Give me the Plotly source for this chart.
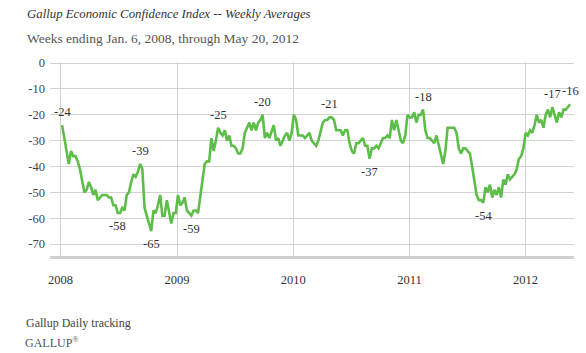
import pandas as pd
import plotly.graph_objects as go

# Weekly Economic Confidence Index values, weeks ending Jan 6, 2008 ... May 20, 2012
values = [
    -24, -29, -34, -39, -34, -36, -36, -38, -41, -45,
    -50, -49, -46, -48, -51, -49, -53, -52, -51, -51,
    -51, -52, -52, -55, -55, -58, -58, -56, -57, -51,
    -50, -46, -43, -44, -42, -39, -41, -56, -59, -61,
    -65, -57, -58, -55, -51, -59, -59, -53, -58, -62,
    -58, -58, -51, -55, -54, -52, -57, -58, -59, -57,
    -57, -58, -51, -44, -39, -38, -38, -29, -34, -30,
    -25, -27, -28, -26, -30, -28, -32, -32, -33, -35,
    -35, -33, -27, -25, -23, -26, -23, -26, -23, -22,
    -20, -29, -27, -29, -26, -24, -30, -29, -32, -30,
    -28, -27, -30, -27, -20, -22, -28, -28, -28, -29,
    -28, -27, -30, -31, -32, -30, -26, -23, -22, -22,
    -21, -21, -22, -26, -26, -26, -28, -26, -26, -31,
    -34, -35, -31, -31, -30, -29, -32, -32, -37, -33,
    -33, -32, -33, -31, -29, -29, -28, -29, -22, -26,
    -22, -26, -30, -31, -28, -20, -21, -21, -19, -23,
    -20, -20, -18, -26, -29, -29, -30, -31, -28, -32,
    -36, -39, -34, -25, -25, -25, -25, -27, -33, -35,
    -33, -33, -34, -35, -40, -45, -51, -53, -53, -54,
    -48, -50, -47, -52, -49, -51, -48, -52, -45, -47,
    -43, -45, -44, -43, -41, -37, -36, -33, -27, -28,
    -26, -27, -24, -20, -23, -22, -25, -20, -18, -21,
    -17, -20, -23, -19, -21, -18, -18, -17, -16,
]
weeks = pd.date_range("2008-01-06", periods=len(values), freq="7D")

# labelled points: (week index, position)
label_idx = [0, 25, 35, 40, 58, 70, 90, 120, 138, 162, 189, 220, 228]
label_pos = ["above", "below", "above", "below", "below", "above", "above",
             "above", "below", "above", "below", "above", "above"]

year_ticks = ["2008-01-01", "2009-01-01", "2010-01-01", "2011-01-01", "2012-01-01"]
year_text = ["2008", "2009", "2010", "2011", "2012"]
y_ticks = [0, -10, -20, -30, -40, -50, -60, -70]
y_text = ["0", "-10", "-20", "-30", "-40", "-50", "-60", "-70"]

SERIF = "Liberation Serif"
GREEN = "#5cbd48"
GRID = "#d3d3d3"

fig = go.Figure()
fig.add_trace(go.Scatter(x=weeks, y=values, mode="lines",
                         line=dict(color=GREEN, width=2.6), hoverinfo="skip"))

annotations = []
for i, pos in zip(label_idx, label_pos):
    annotations.append(dict(
        x=weeks[i], y=values[i], xref="x", yref="y", text=str(values[i]),
        showarrow=False, yshift=13 if pos == "above" else -13,
        font=dict(family=SERIF, size=12.5, color="#333")))

W_PLOT = 524.0
H_PLOT = 194.0
def px_x(px):
    return (px - 50) / W_PLOT
def px_y(py):
    return (256 - py) / H_PLOT

annotations += [
    dict(text="<i>Gallup Economic Confidence Index -- Weekly Averages</i>",
         xref="paper", yref="paper", x=px_x(25), y=px_y(14), xanchor="left",
         yanchor="middle", showarrow=False,
         font=dict(family=SERIF, size=12.8, color="#333")),
    dict(text="Weeks ending Jan. 6, 2008, through May 20, 2012",
         xref="paper", yref="paper", x=px_x(25), y=px_y(38), xanchor="left",
         yanchor="middle", showarrow=False,
         font=dict(family=SERIF, size=13.5, color="#555")),
    dict(text="Gallup Daily tracking",
         xref="paper", yref="paper", x=px_x(24), y=px_y(323), xanchor="left",
         yanchor="middle", showarrow=False,
         font=dict(family=SERIF, size=12, color="#444")),
    dict(text="GALLUP<sup>®</sup>",
         xref="paper", yref="paper", x=px_x(23), y=px_y(342), xanchor="left",
         yanchor="middle", showarrow=False,
         font=dict(family=SERIF, size=12, color="#555")),
]

fig.update_layout(
    width=586, height=353,
    margin=dict(l=50, r=12, t=62, b=97, pad=0),
    paper_bgcolor="white", plot_bgcolor="white",
    showlegend=False,
    annotations=annotations,
    xaxis=dict(
        type="date", range=["2007-11-29", "2012-06-01"],
        tickvals=year_ticks, ticktext=year_text,
        showgrid=True, gridcolor=GRID, gridwidth=1,
        showline=True, linecolor="#cfcfcf", linewidth=3,
        ticks="", ticklabelstandoff=10,
        tickfont=dict(family=SERIF, size=12.5, color="#333"),
        zeroline=False, fixedrange=True,
    ),
    yaxis=dict(
        range=[-74.6, 0.4], tickvals=y_ticks, ticktext=y_text,
        showgrid=True, gridcolor=GRID, gridwidth=1,
        showline=False, zeroline=False, ticks="",
        ticklabelstandoff=4,
        tickfont=dict(family=SERIF, size=12.5, color="#444"),
        fixedrange=True,
    ),
)

fig.write_html("out.html")
